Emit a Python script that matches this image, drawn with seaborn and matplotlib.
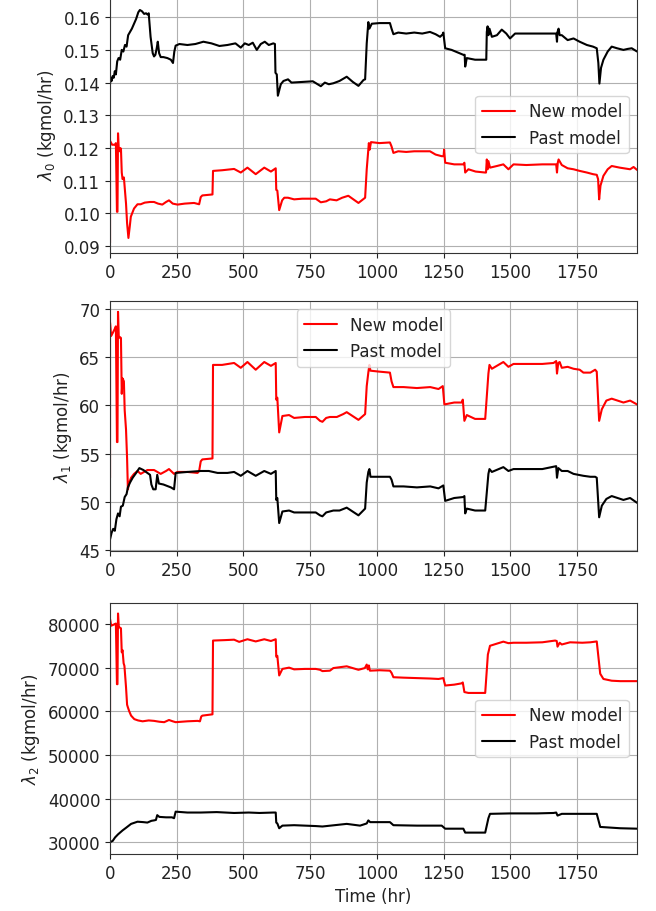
import numpy as np
import pandas as pd
import matplotlib
matplotlib.use("Agg")
import matplotlib.pyplot as plt
import seaborn as sns

# ---------------- data ----------------
# Panel 1: lambda_0
t_new0 = [0, 0, 8, 19, 22, 26, 28, 30, 33, 36, 38, 41, 44, 47, 52, 56, 60, 64, 69, 74, 78, 90, 103, 115, 130, 150, 165, 180, 196, 210, 221, 235, 253, 280, 315, 334, 340, 346, 384, 386, 420, 465, 490, 515, 546, 578, 603, 621, 623, 627, 634, 645, 653, 667, 690, 720, 771, 790, 810, 824, 849, 870, 893, 931, 956, 962, 970, 973, 978, 1010, 1049, 1055, 1062, 1080, 1110, 1140, 1170, 1199, 1220, 1243, 1250, 1252, 1256, 1290, 1324, 1328, 1331, 1343, 1370, 1406, 1409, 1412, 1415, 1418, 1424, 1450, 1474, 1493, 1512, 1560, 1620, 1672, 1675, 1678, 1681, 1693, 1715, 1737, 1760, 1787, 1810, 1824, 1829, 1833, 1838, 1849, 1865, 1880, 1910, 1949, 1962, 1975]
v_new0 = [0.091, 0.1222, 0.121, 0.121, 0.1215, 0.1005, 0.1005, 0.1245, 0.1195, 0.119, 0.120, 0.1198, 0.1125, 0.1105, 0.111, 0.107, 0.103, 0.097, 0.0925, 0.096, 0.099, 0.1015, 0.1028, 0.1028, 0.1033, 0.1035, 0.1035, 0.103, 0.1027, 0.1035, 0.104, 0.103, 0.1027, 0.103, 0.1032, 0.1028, 0.105, 0.1055, 0.1058, 0.113, 0.1132, 0.1136, 0.1125, 0.114, 0.112, 0.114, 0.1128, 0.1138, 0.1072, 0.107, 0.101, 0.104, 0.1048, 0.1048, 0.1043, 0.1045, 0.1045, 0.1034, 0.1037, 0.1043, 0.104, 0.1048, 0.1054, 0.1032, 0.1048, 0.1135, 0.1215, 0.1195, 0.1218, 0.1215, 0.1217, 0.1205, 0.1185, 0.119, 0.1188, 0.119, 0.119, 0.119, 0.118, 0.1175, 0.1175, 0.1195, 0.1155, 0.115, 0.115, 0.1155, 0.1125, 0.1135, 0.1128, 0.1125, 0.1125, 0.1165, 0.1135, 0.116, 0.114, 0.1145, 0.115, 0.1135, 0.115, 0.1148, 0.115, 0.115, 0.1125, 0.1155, 0.1165, 0.1148, 0.1138, 0.1135, 0.113, 0.1125, 0.112, 0.1118, 0.1105, 0.1043, 0.1085, 0.1115, 0.1135, 0.1145, 0.114, 0.1135, 0.1142, 0.1133]

t_past0 = [0, 3, 6, 10, 14, 18, 22, 27, 32, 38, 44, 50, 56, 62, 68, 75, 82, 90, 98, 106, 112, 120, 128, 135, 141, 145, 152, 160, 165, 170, 175, 179, 184, 190, 200, 215, 228, 236, 241, 246, 260, 290, 320, 350, 380, 410, 440, 470, 490, 505, 520, 535, 550, 565, 580, 595, 612, 618, 620, 625, 629, 640, 650, 667, 680, 720, 760, 778, 790, 805, 820, 837, 860, 887, 910, 931, 950, 956, 962, 968, 972, 981, 1010, 1049, 1055, 1062, 1080, 1110, 1140, 1170, 1199, 1220, 1237, 1247, 1249, 1256, 1280, 1310, 1324, 1329, 1331, 1337, 1368, 1406, 1410, 1412, 1415, 1418, 1422, 1431, 1450, 1468, 1485, 1499, 1518, 1560, 1620, 1672, 1675, 1677, 1681, 1685, 1693, 1715, 1737, 1760, 1787, 1810, 1824, 1830, 1834, 1840, 1849, 1865, 1880, 1900, 1924, 1940, 1955, 1975]
v_past0 = [0.1395, 0.1415, 0.1405, 0.142, 0.1415, 0.1435, 0.1425, 0.1465, 0.1475, 0.147, 0.150, 0.1495, 0.1515, 0.151, 0.1545, 0.1555, 0.1565, 0.158, 0.1595, 0.1615, 0.1622, 0.1618, 0.161, 0.1612, 0.1608, 0.1612, 0.154, 0.149, 0.148, 0.1485, 0.1505, 0.1525, 0.149, 0.1478, 0.1478, 0.1475, 0.147, 0.146, 0.1495, 0.1513, 0.1518, 0.1515, 0.1518, 0.1525, 0.152, 0.1512, 0.1515, 0.152, 0.1507, 0.152, 0.1515, 0.1522, 0.150, 0.1518, 0.1525, 0.1515, 0.152, 0.1518, 0.143, 0.1425, 0.136, 0.1395, 0.1405, 0.141, 0.140, 0.1402, 0.1404, 0.1395, 0.1389, 0.140, 0.1395, 0.1398, 0.1405, 0.1418, 0.1402, 0.139, 0.1408, 0.141, 0.152, 0.1585, 0.1565, 0.158, 0.1582, 0.1582, 0.1565, 0.1548, 0.1553, 0.155, 0.1553, 0.155, 0.1555, 0.1548, 0.154, 0.1548, 0.1553, 0.1505, 0.150, 0.149, 0.1485, 0.1485, 0.1449, 0.1475, 0.147, 0.147, 0.147, 0.1555, 0.1572, 0.1545, 0.1565, 0.154, 0.1545, 0.1562, 0.155, 0.1535, 0.155, 0.155, 0.155, 0.155, 0.1525, 0.1555, 0.1565, 0.1545, 0.1545, 0.153, 0.1535, 0.1525, 0.1515, 0.151, 0.1505, 0.146, 0.1397, 0.1445, 0.147, 0.1495, 0.151, 0.1505, 0.150, 0.1503, 0.1505, 0.1495]

# Panel 2: lambda_1
t_new1 = [0, 0, 4, 10, 19, 22, 26, 28, 30, 33, 36, 41, 44, 47, 52, 55, 60, 64, 67, 72, 79, 90, 103, 115, 140, 165, 190, 210, 221, 240, 253, 290, 328, 334, 340, 346, 384, 386, 420, 465, 490, 515, 546, 578, 603, 621, 623, 627, 634, 646, 671, 690, 730, 771, 787, 796, 810, 824, 850, 874, 887, 931, 956, 962, 968, 972, 976, 1010, 1049, 1055, 1062, 1100, 1150, 1200, 1231, 1247, 1253, 1290, 1318, 1322, 1328, 1337, 1368, 1406, 1418, 1422, 1431, 1474, 1493, 1512, 1560, 1620, 1662, 1672, 1675, 1680, 1685, 1693, 1715, 1737, 1760, 1774, 1800, 1818, 1824, 1833, 1843, 1860, 1880, 1924, 1949, 1975]
v_new1 = [52.5, 68.6, 67.2, 67.5, 68.0, 68.2, 56.2, 56.2, 69.7, 67.0, 67.1, 67.0, 61.2, 62.8, 62.5, 59.5, 57.5, 54.5, 51.3, 52.0, 52.5, 52.9, 53.2, 52.9, 53.3, 53.3, 52.9, 53.2, 53.4, 52.9, 53.1, 53.1, 53.0, 53.2, 54.2, 54.4, 54.5, 64.2, 64.2, 64.4, 63.9, 64.5, 63.7, 64.5, 64.1, 64.4, 60.6, 60.8, 57.2, 58.9, 59.0, 58.7, 58.8, 58.8, 58.4, 58.3, 58.7, 58.8, 58.8, 59.1, 59.3, 58.5, 59.1, 62.0, 63.4, 64.2, 63.6, 63.5, 63.4, 62.5, 61.9, 61.9, 61.8, 61.9, 61.7, 62.0, 60.1, 60.3, 60.3, 60.6, 58.4, 59.0, 58.6, 58.6, 63.3, 64.2, 63.8, 64.5, 64.0, 64.3, 64.3, 64.3, 64.4, 64.6, 63.3, 64.4, 64.5, 63.9, 64.0, 63.8, 63.7, 63.4, 63.4, 63.7, 63.5, 58.4, 59.6, 60.5, 60.7, 60.3, 60.5, 60.1]

t_past1 = [0, 6, 12, 18, 24, 30, 36, 41, 48, 55, 62, 67, 75, 85, 98, 110, 125, 140, 150, 155, 162, 171, 177, 183, 200, 228, 240, 246, 290, 340, 370, 403, 440, 465, 490, 515, 546, 578, 603, 621, 623, 627, 634, 646, 671, 690, 730, 771, 787, 796, 810, 837, 860, 887, 931, 956, 962, 968, 972, 976, 1010, 1049, 1055, 1062, 1100, 1150, 1200, 1231, 1249, 1256, 1290, 1324, 1328, 1331, 1337, 1368, 1406, 1418, 1422, 1431, 1474, 1493, 1512, 1560, 1620, 1672, 1675, 1680, 1693, 1715, 1737, 1774, 1800, 1818, 1824, 1833, 1843, 1860, 1880, 1924, 1949, 1975]
v_past1 = [46.1, 46.8, 47.2, 47.0, 48.2, 48.8, 48.5, 49.5, 49.6, 50.5, 50.8, 51.5, 52.0, 52.5, 53.0, 53.5, 53.3, 53.0, 52.8, 51.8, 51.3, 51.3, 52.8, 51.9, 51.8, 51.5, 51.3, 53.0, 53.1, 53.2, 53.2, 53.0, 53.0, 53.1, 52.7, 53.2, 52.7, 53.2, 52.9, 53.2, 50.2, 50.4, 47.8, 49.0, 49.1, 48.9, 48.9, 48.9, 48.6, 48.5, 48.9, 49.1, 49.1, 49.4, 48.6, 49.3, 52.0, 53.1, 53.4, 52.6, 52.6, 52.6, 52.3, 51.6, 51.6, 51.5, 51.6, 51.4, 51.7, 50.1, 50.4, 50.5, 50.6, 48.8, 49.3, 49.1, 49.1, 52.9, 53.4, 53.1, 53.6, 53.2, 53.4, 53.4, 53.4, 53.7, 52.5, 53.5, 53.2, 53.2, 52.9, 52.7, 52.6, 52.6, 52.5, 48.4, 49.6, 50.3, 50.6, 50.2, 50.4, 49.9]

# Panel 3: lambda_2
t_new2 = [0, 0, 4, 12, 19, 22, 26, 28, 30, 33, 36, 41, 44, 47, 51, 54, 60, 64, 67, 72, 79, 91, 105, 122, 145, 165, 185, 203, 221, 235, 246, 290, 328, 337, 342, 346, 384, 386, 430, 465, 484, 515, 546, 578, 603, 621, 623, 627, 634, 646, 671, 690, 730, 771, 787, 796, 824, 837, 887, 931, 955, 962, 966, 970, 974, 1010, 1049, 1055, 1062, 1100, 1150, 1200, 1231, 1249, 1256, 1290, 1318, 1322, 1328, 1343, 1370, 1406, 1416, 1424, 1450, 1474, 1493, 1512, 1560, 1620, 1668, 1674, 1677, 1685, 1693, 1724, 1770, 1800, 1824, 1837, 1849, 1880, 1912, 1975]
v_new2 = [60000, 81100, 79600, 79800, 80000, 80100, 66200, 66200, 82400, 79300, 79200, 79000, 73500, 74000, 71000, 70400, 65500, 61500, 60900, 60000, 59000, 58200, 57900, 57700, 57900, 57800, 57600, 57500, 58000, 57700, 57500, 57700, 57800, 57700, 58800, 59000, 59300, 76200, 76300, 76400, 75900, 76500, 76000, 76500, 76100, 76500, 72500, 72700, 68200, 69700, 70000, 69600, 69700, 69700, 69500, 69200, 69300, 69900, 70300, 69500, 69900, 70700, 69600, 70500, 69300, 69400, 69300, 68800, 67800, 67700, 67600, 67500, 67400, 67600, 65900, 66100, 66400, 66600, 64400, 64200, 64200, 64200, 73000, 75000, 75500, 75950, 75600, 75700, 75700, 75800, 76200, 76100, 74800, 75700, 75300, 75800, 75700, 75800, 76000, 68600, 67400, 67000, 66900, 66900]

t_past2 = [0, 10, 19, 30, 47, 60, 79, 103, 125, 140, 155, 165, 172, 177, 185, 210, 232, 240, 246, 290, 340, 400, 465, 520, 560, 612, 621, 623, 627, 634, 646, 690, 771, 796, 887, 937, 962, 968, 975, 1049, 1062, 1150, 1243, 1256, 1324, 1331, 1406, 1418, 1424, 1500, 1600, 1662, 1672, 1677, 1693, 1780, 1824, 1837, 1912, 1975]
v_past2 = [30000, 30300, 31100, 31800, 32700, 33300, 34200, 34700, 34600, 34500, 34900, 35000, 35100, 36200, 35800, 35700, 35700, 35500, 37000, 36800, 36800, 36900, 36700, 36800, 36700, 36800, 36800, 34500, 34300, 33200, 33800, 33900, 33700, 33600, 34200, 33800, 34300, 35000, 34600, 34600, 33900, 33800, 33800, 33100, 33100, 32200, 32200, 35500, 36500, 36600, 36600, 36700, 36800, 36100, 36500, 36500, 36500, 33500, 33200, 33100]

labels = ["New model", "Past model"]
ylabels = [r"$\lambda_0$ (kgmol/hr)", r"$\lambda_1$ (kgmol/hr)", r"$\lambda_2$ (kgmol/hr)"]
xticks = [0, 250, 500, 750, 1000, 1250, 1500, 1750]
yticks0 = [0.09, 0.10, 0.11, 0.12, 0.13, 0.14, 0.15, 0.16]
yticks1 = [45, 50, 55, 60, 65, 70]
yticks2 = [30000, 40000, 50000, 60000, 70000, 80000]

# ---------------- styling ----------------
sns.set_theme(style="ticks")
plt.rcParams.update({
    "font.family": ["DejaVu Sans"],
    "axes.grid": True,
    "grid.color": "#b0b0b0",
    "grid.linewidth": 0.8,
    "axes.edgecolor": "#333333",
    "axes.linewidth": 0.8,
    "xtick.color": "#222222",
    "ytick.color": "#222222",
    "xtick.major.size": 3.5,
    "ytick.major.size": 3.5,
    "xtick.major.width": 0.8,
    "ytick.major.width": 0.8,
    "xtick.labelsize": 12,
    "ytick.labelsize": 12,
    "axes.labelsize": 12,
    "legend.fontsize": 12,
    "text.color": "#222222",
    "axes.labelcolor": "#222222",
})

fig = plt.figure(figsize=(6.56, 9.12), dpi=100)
positions = [
    [0.1677, 0.7215, 0.8034, 0.2815],
    [0.1677, 0.3947, 0.8034, 0.2742],
    [0.1677, 0.0625, 0.8034, 0.2752],
]
ylims = [(0.0879, 0.1664), (44.9, 70.83), (27300, 84800)]
yticks_all = [yticks0, yticks1, yticks2]
legend_locs = ["center right", "upper center", "center right"]
series = [
    (t_new0, v_new0, t_past0, v_past0),
    (t_new1, v_new1, t_past1, v_past1),
    (t_new2, v_new2, t_past2, v_past2),
]
palette = {"New model": "red", "Past model": "black"}

for i, (tn, vn, tp, vp) in enumerate(series):
    assert len(tn) == len(vn) and len(tp) == len(vp)
    ax = fig.add_axes(positions[i])
    df = pd.DataFrame({
        "Time": list(tn) + list(tp),
        "Value": list(vn) + list(vp),
        "Model": [labels[0]] * len(tn) + [labels[1]] * len(tp),
    })
    sns.lineplot(data=df, x="Time", y="Value", hue="Model", palette=palette,
                 estimator=None, sort=False, linewidth=1.5, ax=ax)
    ax.set_xlim(0, 1975)
    ax.set_ylim(*ylims[i])
    ax.set_xticks(xticks)
    ax.set_yticks(yticks_all[i])
    if i == 0:
        ax.set_yticklabels([f"{v:.2f}" for v in yticks0])
    ax.set_ylabel(ylabels[i])
    ax.set_xlabel("Time (hr)" if i == 2 else "")
    ax.grid(True, color="#b0b0b0", linewidth=0.8)
    for s in ax.spines.values():
        s.set_visible(True)
        s.set_color("#333333")
    h, l = ax.get_legend_handles_labels()
    ax.legend(h, l, loc=legend_locs[i], frameon=True, fancybox=True,
              framealpha=0.8, edgecolor="#cccccc")

fig.savefig("out.png", dpi=100)
